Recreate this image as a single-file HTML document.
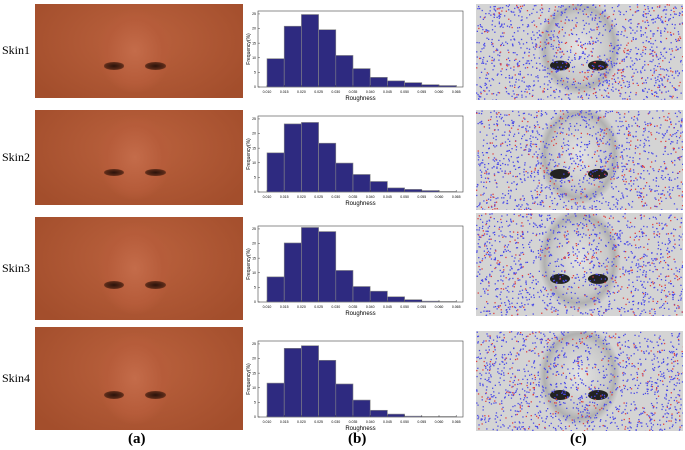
<!DOCTYPE html>
<html><head><meta charset="utf-8">
<style>
body{margin:0;width:685px;height:450px;background:#fff;position:relative;overflow:hidden;font-family:"Liberation Serif",serif}
.lab{position:absolute;font-size:12px;color:#000}
.ph{position:absolute;overflow:hidden}
.skin{background:radial-gradient(ellipse 18% 45% at 48% 50%,#c46c4a 0%,#b65c3a 75%,rgba(0,0,0,0) 100%),radial-gradient(ellipse 60% 80% at 50% 40%,#bb623e,#a34e2c);}
.gray{background:radial-gradient(ellipse 20% 50% at 50% 45%,#e4e4e4,#c8c8c8 70%,#b0b0b0 85%,#d4d4d4 100%),#d2d2d2}
.nost{position:absolute;width:10%;height:8%;border-radius:50%;background:radial-gradient(ellipse,#2a120a,#5a2a18 60%,rgba(0,0,0,0) 100%)}
.cap{position:absolute;font-size:15px;font-weight:bold;top:431px}
</style></head><body>
<div id="root"></div>
<div class="cap" style="left:128px">(a)</div>
<div class="cap" style="left:348px">(b)</div>
<div class="cap" style="left:570px">(c)</div>
<svg id="charts" width="685" height="450" style="position:absolute;left:0;top:0"></svg>
<script>
const binEdges=["0.010","0.015","0.020","0.025","0.030","0.035","0.040","0.045","0.050","0.055","0.060","0.065"];
const yTicks=[0,5,10,15,20,25];
const skin1=[9.7,20.8,24.8,19.6,10.8,6.3,3.3,2.1,1.5,0.8,0.5];
const skin2=[13.4,23.3,23.8,16.7,9.9,6.0,3.6,1.4,0.9,0.5,0.2];
const skin3=[8.6,20.2,25.5,24.1,10.8,5.3,3.7,1.8,0.8,0.3,0.2];
const skin4=[11.6,23.5,24.4,19.4,11.3,5.8,2.3,1.0,0.3,0.2,0.2];
const series=[skin1,skin2,skin3,skin4];
const names=["Skin1","Skin2","Skin3","Skin4"];
const aRows=[[4,98],[110,205],[217,320],[327,430]];
const cRows=[[4,100],[110,210],[213,316],[331,431]];
const zeros=[87,192,302,417];
const root=document.getElementById('root');
let seed=7;function rnd(){seed=(seed*16807)%2147483647;return seed/2147483647;}
aRows.forEach((r,i)=>{
  const l=document.createElement('div');l.className='lab';l.textContent=names[i];
  l.style.left='2px';l.style.top=((r[0]+r[1])/2-8)+'px';
  
  
  root.appendChild(l);
  const p=document.createElement('div');p.className='ph skin';
  p.style.cssText+=`left:35px;top:${r[0]}px;width:208px;height:${r[1]-r[0]}px`;
  
  
  p.innerHTML='<div class="nost" style="left:33%;top:62%"></div><div class="nost" style="left:53%;top:62%"></div>';
  root.appendChild(p);
  const c=cRows[i];
  const h=c[1]-c[0];
  const q=document.createElement('div');q.className='ph gray';
  q.style.cssText+=`left:476px;top:${c[0]}px;width:207px;height:${h}px`;
  
  
  let s='<svg width="207" height="'+h+'"><ellipse cx="84" cy="'+(h*0.64)+'" rx="10" ry="5" fill="#222"/><ellipse cx="122" cy="'+(h*0.64)+'" rx="10" ry="5" fill="#222"/>';
  for(let k=0;k<1300;k++){s+=`<rect x="${(rnd()*207).toFixed(1)}" y="${(rnd()*h).toFixed(1)}" width="1.3" height="1.3" fill="${rnd()<0.2?'#e04040':'#4a4ae8'}"/>`;}
  q.innerHTML=s+'</svg>';
  root.appendChild(q);
});
const svg=document.getElementById('charts');
const NS='http://www.w3.org/2000/svg';
function el(t,a,p){const e=document.createElementNS(NS,t);for(const k in a)e.setAttribute(k,a[k]);(p||svg).appendChild(e);return e;}
const x0=267,bw=17.2,boxL=258,boxR=463,unit=76/26;
series.forEach((vals,i)=>{
  const z=zeros[i];
  const g=el('g',{});
  
  
  const xs=k=>x0+k*bw, ys=v=>z-v*unit;
  const box=el('rect',{x:boxL,y:z-76,width:boxR-boxL,height:76,fill:'#fff',stroke:'#444','stroke-width':0.6},g);
  
  
  vals.forEach((v,k)=>{
    const b=el('rect',{x:xs(k),y:ys(v),width:bw,height:v*unit,fill:'#2e2a80',stroke:'#888','stroke-width':0.6},g);
    
    
  });
  binEdges.forEach((t,k)=>{
    el('line',{x1:xs(k),x2:xs(k),y1:z,y2:z-2,stroke:'#444','stroke-width':0.5},g);
    const tx=el('text',{x:xs(k),y:z+6,'font-size':3.5,'text-anchor':'middle','font-family':'Liberation Sans, sans-serif'},g);
    tx.textContent=t;
    
    
  });
  yTicks.forEach(t=>{
    el('line',{x1:boxL,x2:boxL+2,y1:ys(t),y2:ys(t),stroke:'#444','stroke-width':0.5},g);
    const tx=el('text',{x:boxL-2,y:ys(t)+1.2,'font-size':3.5,'text-anchor':'end','font-family':'Liberation Sans, sans-serif'},g);
    tx.textContent=t;
    
    
  });
  const xl=el('text',{x:(boxL+boxR)/2,y:z+13,'font-size':6,'text-anchor':'middle','font-family':'Liberation Sans, sans-serif'},g);
  xl.textContent='Roughness';
  
  
  const yl=el('text',{x:0,y:0,'font-size':5,'text-anchor':'middle','font-family':'Liberation Sans, sans-serif',transform:`translate(250,${z-38}) rotate(-90)`},g);
  yl.textContent='Frequency(%)';
  
  
});
</script>
</body></html>
